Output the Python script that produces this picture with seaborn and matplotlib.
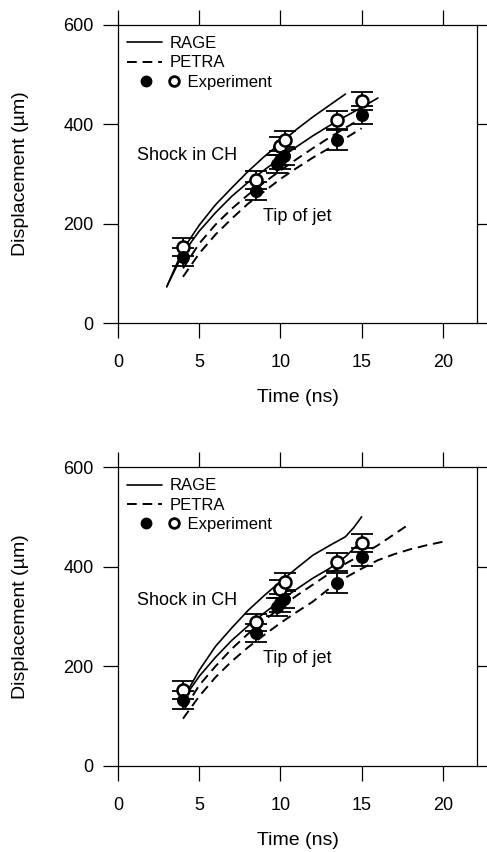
import matplotlib
matplotlib.use("Agg")
import matplotlib.pyplot as plt
import seaborn as sns
import numpy as np
from matplotlib.lines import Line2D
from matplotlib.legend_handler import HandlerBase

# ---------------- data ----------------
# Experiment (same in both panels)
exp_open_t = [4.0, 8.5, 9.95, 10.25, 13.5, 15.0]
exp_open_y = [153, 288, 356, 369, 409, 447]
exp_open_err = [18, 18, 18, 18, 18, 18]
exp_fill_t = [4.0, 8.5, 9.8, 10.0, 10.2, 13.5, 15.0]
exp_fill_y = [132, 266, 320, 328, 336, 368, 419]
exp_fill_err = [18, 18, 18, 18, 18, 20, 18]

# Top panel simulations
top_rage_shock_t = [3, 4, 5, 6, 7, 8, 9, 10, 11, 12, 13, 14]
top_rage_shock_y = [73, 148, 197, 238, 272, 305, 335, 362, 390, 415, 438, 461]
top_rage_jet_t = [3, 4, 5, 6, 7, 8, 9, 10, 11, 12, 13, 14, 15, 16]
top_rage_jet_y = [73, 140, 185, 222, 255, 283, 308, 332, 355, 377, 397, 416, 434, 453]
top_petra_shock_t = [4, 5, 6, 7, 8, 9, 10, 11, 12, 13, 14, 15]
top_petra_shock_y = [110, 160, 198, 230, 258, 283, 307, 330, 352, 373, 393, 412]
top_petra_jet_t = [4, 5, 6, 7, 8, 9, 10, 11, 12, 13, 14, 15]
top_petra_jet_y = [93, 140, 178, 210, 240, 265, 290, 312, 333, 352, 372, 392]

# Bottom panel simulations
bot_rage_shock_t = [4.1, 5, 6, 7, 8, 9, 10, 11, 12, 13, 14, 14.5, 15]
bot_rage_shock_y = [140, 192, 240, 277, 312, 342, 370, 397, 423, 442, 460, 478, 500]
bot_rage_jet_t = [4.1, 5, 6, 7, 8, 9, 10, 11, 12, 13, 14, 15]
bot_rage_jet_y = [138, 180, 218, 252, 281, 307, 332, 355, 377, 396, 420, 452]
bot_petra_shock_t = [4.1, 5, 6, 7, 8, 9, 10, 11, 12, 13, 14, 15, 16, 17, 18]
bot_petra_shock_y = [115, 162, 200, 235, 265, 292, 318, 342, 364, 386, 406, 424, 443, 465, 487]
bot_petra_jet_t = [4, 5, 6, 7, 8, 9, 10, 11, 12, 13, 14, 15, 16, 17, 18, 19, 20]
bot_petra_jet_y = [95, 140, 178, 210, 238, 263, 287, 309, 330, 356, 378, 396, 413, 425, 435, 443, 450]

x_ticks = [0, 5, 10, 15, 20]
y_ticks = [0, 200, 400, 600]
legend_labels = ["RAGE", "PETRA", "Experiment"]

# ---------------- style ----------------
sns.set_style("ticks")
plt.rcParams["font.family"] = ["Liberation Sans", "DejaVu Sans"]
plt.rcParams["text.color"] = "black"
plt.rcParams["axes.labelcolor"] = "black"
plt.rcParams["xtick.color"] = "black"
plt.rcParams["ytick.color"] = "black"

fig = plt.figure(figsize=(4.87, 8.52), dpi=100)
W, H = 487, 852
ax_top = fig.add_axes([118 / W, 1 - 323 / H, 359 / W, 298 / H])
ax_bot = fig.add_axes([118 / W, 1 - 766 / H, 359 / W, 299 / H])

DASH = (0, (5, 3))
LW = 1.2


class HandlerTwoMarkers(HandlerBase):
    def create_artists(self, legend, orig_handle, xdescent, ydescent,
                       width, height, fontsize, trans):
        y = height / 2 - ydescent
        m1 = Line2D([width * 0.55], [y], marker="o", ms=7.5, mfc="black",
                    mec="black", ls="none", transform=trans)
        m2 = Line2D([width * 1.35], [y], marker="o", ms=7, mfc="white",
                    mec="black", mew=2, ls="none", transform=trans)
        return [m1, m2]


def draw_panel(ax, rs_t, rs_y, rj_t, rj_y, ps_t, ps_y, pj_t, pj_y,
               shock_xy, jet_xy):
    for t, y in ((rs_t, rs_y), (rj_t, rj_y)):
        sns.lineplot(x=t, y=y, ax=ax, color="black", lw=LW, sort=False,
                     estimator=None)
    for t, y in ((ps_t, ps_y), (pj_t, pj_y)):
        sns.lineplot(x=t, y=y, ax=ax, color="black", lw=LW + 0.2, sort=False,
                     estimator=None, linestyle=DASH)
    ax.errorbar(exp_fill_t, exp_fill_y, yerr=exp_fill_err, fmt="none",
                ecolor="black", elinewidth=1.3, capsize=8, capthick=1.3,
                zorder=3)
    ax.errorbar(exp_open_t, exp_open_y, yerr=exp_open_err, fmt="none",
                ecolor="black", elinewidth=1.3, capsize=8, capthick=1.3,
                zorder=3)
    sns.scatterplot(x=exp_open_t, y=exp_open_y, ax=ax, marker="o", s=75,
                    color="white", edgecolor="black", linewidth=1.8, zorder=4)
    sns.scatterplot(x=exp_fill_t, y=exp_fill_y, ax=ax, marker="o", s=70,
                    color="black", edgecolor="black", linewidth=1, zorder=5)

    ax.set_xlim(0, 22.1)
    ax.set_ylim(0, 600)
    ax.set_xticks(x_ticks)
    ax.set_yticks(y_ticks)
    for s in ax.spines.values():
        s.set_visible(True)
        s.set_linewidth(0.9)
        s.set_color("black")
    ax.tick_params(direction="out", length=10.5, width=0.9, top=True,
                   right=True, labelsize=13, colors="black")
    ax.tick_params(axis="x", pad=12)
    ax.tick_params(axis="y", pad=7)
    ax.set_xlabel("Time (ns)", fontsize=14)
    ax.set_ylabel("Displacement (µm)", fontsize=14)
    ax.xaxis.set_label_coords(0.5, -0.22)
    ax.yaxis.set_label_coords(-0.248, 0.5)

    ax.text(shock_xy[0], shock_xy[1], "Shock in CH", fontsize=13,
            ha="left", va="center")
    ax.text(jet_xy[0], jet_xy[1], "Tip of jet", fontsize=13,
            ha="left", va="center")

    handles = [Line2D([], [], color="black", lw=LW),
               Line2D([], [], color="black", lw=LW + 0.2, linestyle=DASH),
               (Line2D([], [], marker="o"), Line2D([], [], marker="o"))]
    labels = [legend_labels[0], legend_labels[1], "    " + legend_labels[2]]
    ax.legend(handles, labels, loc="upper left",
              bbox_to_anchor=(0.025, 0.962), frameon=False, fontsize=12,
              handlelength=2.1, handletextpad=0.45, labelspacing=0.25,
              borderpad=0, borderaxespad=0,
              handler_map={tuple: HandlerTwoMarkers()})


draw_panel(ax_top, top_rage_shock_t, top_rage_shock_y, top_rage_jet_t,
           top_rage_jet_y, top_petra_shock_t, top_petra_shock_y,
           top_petra_jet_t, top_petra_jet_y, (1.15, 338), (8.94, 214))
draw_panel(ax_bot, bot_rage_shock_t, bot_rage_shock_y, bot_rage_jet_t,
           bot_rage_jet_y, bot_petra_shock_t, bot_petra_shock_y,
           bot_petra_jet_t, bot_petra_jet_y, (1.15, 333), (8.94, 216))

fig.savefig("out.png", dpi=100, facecolor="white")
